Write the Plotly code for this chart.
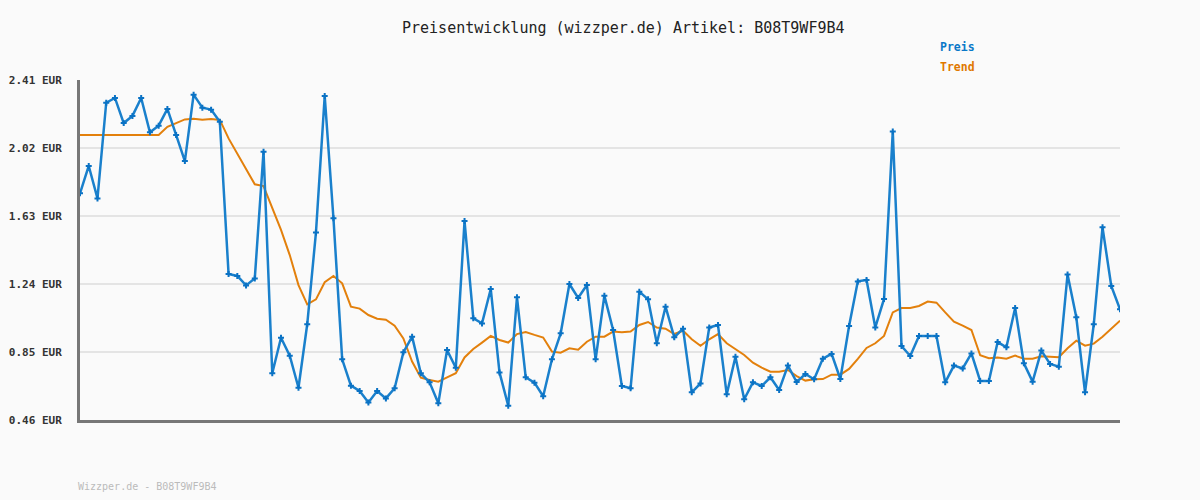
import plotly.graph_objects as go

title_text = "Preisentwicklung (wizzper.de) Artikel: B08T9WF9B4"
footer_text = "Wizzper.de - B08T9WF9B4"
tick_vals = [0.46, 0.85, 1.24, 1.63, 2.02, 2.41]
tick_text = ["0.46 EUR", "0.85 EUR", "1.24 EUR", "1.63 EUR", "2.02 EUR", "2.41 EUR"]

preis = [
    1.76, 1.917, 1.731, 2.28, 2.307, 2.163, 2.204, 2.307, 2.11, 2.148,
    2.244, 2.095, 1.945, 2.326, 2.251, 2.24, 2.171, 1.297, 1.286, 1.232,
    1.272, 1.999, 0.728, 0.932, 0.829, 0.645, 1.009, 1.536, 2.318, 1.617,
    0.808, 0.657, 0.626, 0.561, 0.626, 0.584, 0.642, 0.848, 0.938, 0.728,
    0.676, 0.556, 0.861, 0.76, 1.601, 1.043, 1.014, 1.211, 0.733, 0.542,
    1.164, 0.705, 0.674, 0.596, 0.808, 0.957, 1.24, 1.16, 1.234, 0.808,
    1.173, 0.976, 0.655, 0.642, 1.196, 1.152, 0.90, 1.11, 0.934, 0.984,
    0.619, 0.67, 0.99, 1.005, 0.607, 0.823, 0.579, 0.676, 0.655, 0.705,
    0.632, 0.772, 0.678, 0.724, 0.694, 0.812, 0.839, 0.695, 0.999, 1.255,
    1.263, 0.991, 1.154, 2.114, 0.884, 0.827, 0.942, 0.942, 0.942, 0.676,
    0.772, 0.756, 0.842, 0.684, 0.684, 0.907, 0.877, 1.102, 0.785, 0.68,
    0.858, 0.781, 0.766, 1.295, 1.049, 0.619, 1.009, 1.565, 1.229, 1.095,
]

trend = [
    2.095, 2.095, 2.095, 2.095, 2.095, 2.095, 2.095, 2.095, 2.095, 2.095,
    2.142, 2.161, 2.184, 2.188, 2.182, 2.186, 2.181, 2.075, 1.990, 1.905,
    1.812, 1.802, 1.674, 1.55, 1.406, 1.234, 1.123, 1.152, 1.25, 1.286,
    1.244, 1.11, 1.099, 1.062, 1.041, 1.035, 1.001, 0.928, 0.795, 0.703,
    0.689, 0.68, 0.705, 0.728, 0.819, 0.867, 0.904, 0.942, 0.919, 0.904,
    0.953, 0.965, 0.948, 0.933, 0.852, 0.846, 0.871, 0.863, 0.909, 0.938,
    0.938, 0.967, 0.963, 0.967, 1.005, 1.022, 0.99, 0.984, 0.953, 0.972,
    0.923, 0.886, 0.923, 0.953, 0.90, 0.865, 0.833, 0.789, 0.76, 0.737,
    0.737, 0.747, 0.712, 0.686, 0.694, 0.695, 0.72, 0.72, 0.753, 0.81,
    0.873, 0.90, 0.942, 1.077, 1.102, 1.102, 1.114, 1.139, 1.133, 1.077,
    1.024, 1.001, 0.976, 0.831, 0.814, 0.818, 0.812, 0.829, 0.812, 0.812,
    0.825, 0.823, 0.82, 0.871, 0.915, 0.886, 0.898, 0.938, 0.986, 1.03,
]

x_idx = list(range(len(preis)))

BLUE = "#1a80cc"
BLUE_MARK = "#0a72c4"
ORANGE = "#e3800c"
MONO = "DejaVu Sans Mono"

fig = go.Figure()
fig.add_trace(go.Scatter(
    x=x_idx, y=trend, mode="lines", name="Trend",
    line=dict(color=ORANGE, width=2), hoverinfo="skip",
))
fig.add_trace(go.Scatter(
    x=x_idx, y=preis, mode="lines+markers", name="Preis",
    line=dict(color=BLUE, width=2.5),
    marker=dict(symbol="cross", size=5, color=BLUE_MARK),
))

fig.update_layout(
    width=1200, height=500,
    margin=dict(l=80, r=80, t=80, b=80, autoexpand=False),
    paper_bgcolor="#fafafa", plot_bgcolor="#fafafa",
    showlegend=False,
    xaxis=dict(
        range=[0, len(preis) - 1], showgrid=False, zeroline=False,
        showticklabels=False, ticks="", automargin=False,
        showline=True, linecolor="#777777", linewidth=3,
    ),
    yaxis=dict(
        range=[0.46, 2.41], tickvals=tick_vals, ticktext=tick_text,
        showgrid=True, gridcolor="#e4e4e4", gridwidth=2, zeroline=False,
        showline=True, linecolor="#777777", linewidth=3, automargin=False,
        ticks="", ticklabelstandoff=13,
        tickfont=dict(family=MONO, size=11, color="#333333", weight="bold"),
    ),
    annotations=[
        dict(text=title_text, xref="paper", yref="paper", x=0.523, y=1.153,
             xanchor="center", yanchor="middle", showarrow=False,
             font=dict(family=MONO, size=15, color="#222222")),
        dict(text="Preis", xref="paper", yref="paper", x=0.825, y=1.097,
             xanchor="left", yanchor="middle", showarrow=False,
             font=dict(family=MONO, size=11.5, color="#0a78c8", weight="bold")),
        dict(text="Trend", xref="paper", yref="paper", x=0.825, y=1.038,
             xanchor="left", yanchor="middle", showarrow=False,
             font=dict(family=MONO, size=11.5, color="#e07800", weight="bold")),
        dict(text=footer_text, xref="paper", yref="paper", x=0.0, y=-0.197,
             xanchor="left", yanchor="middle", showarrow=False, xshift=-4,
             font=dict(family=MONO, size=10, color="#bbbbbb")),
    ],
)

fig.write_html(
    "out.html",
    config={"displayModeBar": False},
    post_script="document.body.style.margin='0';document.body.style.padding='0';",
)
